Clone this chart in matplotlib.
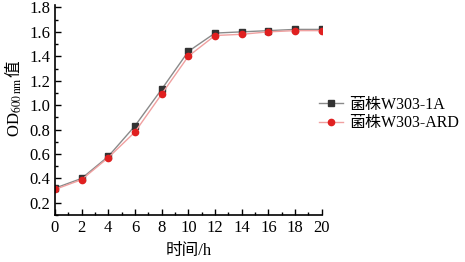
import matplotlib
matplotlib.use("Agg")
import matplotlib.pyplot as plt
from matplotlib.ticker import MultipleLocator

plt.rcParams["font.family"] = ["Liberation Serif", "Noto Sans CJK SC"]
plt.rcParams["mathtext.fontset"] = "stix"

# growth curve data
hours = [0, 2, 4, 6, 8, 10, 12, 14, 16, 18, 20]
od_1a = [0.32, 0.40, 0.58, 0.83, 1.13, 1.44, 1.59, 1.60, 1.61, 1.62, 1.62]
od_ard = [0.31, 0.39, 0.57, 0.78, 1.09, 1.40, 1.57, 1.58, 1.60, 1.61, 1.61]
labels = ["菌株W303-1A", "菌株W303-ARD"]

fig = plt.figure(figsize=(4.65, 2.62), dpi=100)
ax = fig.add_axes([0.118, 0.179, 0.574, 0.802])

ax.plot(hours, od_1a, color="#8a8a8a", lw=1.0, marker="s", ms=4,
        mfc="#333333", mec="#333333", label=labels[0])
ax.plot(hours, od_ard, color="#f0a0a0", lw=1.0, marker="o", ms=4.5,
        mfc="#e02020", mec="#e02020", label=labels[1])

ax.set_xlim(0, 20)
ax.set_ylim(0.1, 1.82)
ax.xaxis.set_major_locator(MultipleLocator(2))
ax.xaxis.set_minor_locator(MultipleLocator(1))
ax.yaxis.set_minor_locator(MultipleLocator(0.1))
ax.set_yticks([0.2, 0.4, 0.6, 0.8, 1.0, 1.2, 1.4, 1.6, 1.8])
ax.yaxis.set_major_formatter(plt.FormatStrFormatter("%.1f"))
ax.tick_params(which="both", direction="in", labelsize=12, width=1)
ax.tick_params(which="major", length=4)
ax.tick_params(which="minor", length=2)
ax.spines["top"].set_visible(False)
ax.spines["right"].set_visible(False)
for s in ("left", "bottom"):
    ax.spines[s].set_linewidth(1.2)

ax.set_xlabel("时间/h", fontsize=12, labelpad=5)

# y label: OD600nm值
t1 = fig.text(0.032, 0.477, r"OD$_{600\,\mathrm{nm}}$", rotation=90,
              ha="center", va="bottom", fontsize=12)
ax.annotate("值", xy=(0.5, 1.0), xycoords=t1, ha="center", va="bottom",
            rotation=90, fontsize=12, annotation_clip=False)

fig.legend(loc="upper left", bbox_to_anchor=(0.672, 0.655), frameon=False,
           fontsize=11.5, handlelength=1.5, handletextpad=0.4, labelspacing=0.15,
           borderaxespad=0)

fig.savefig("out.png", dpi=100)
